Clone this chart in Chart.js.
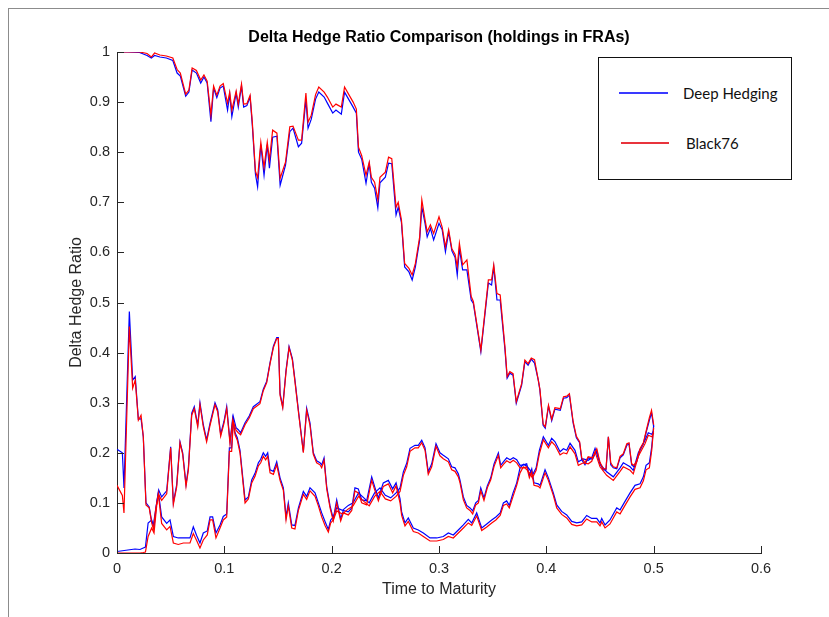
<!DOCTYPE html>
<html>
<head>
<meta charset="utf-8">
<script src="https://cdn.jsdelivr.net/npm/chart.js@4.4.0/dist/chart.umd.min.js"></script>
<style>
html, body { margin: 0; padding: 0; background: #fff; }
#wrap { position: relative; width: 829px; height: 617px; overflow: hidden; }
#frame { position: absolute; left: 8px; top: 8px; width: 900px; height: 700px; border-left: 1px solid #8c8c8c; border-top: 1px solid #8c8c8c; }
#legend { position: absolute; left: 598px; top: 57px; width: 192px; height: 121px; border: 1px solid #111; background: #fff;
  font-family: Lato, "Open Sans", sans-serif; font-size: 15px; color: #111; }
#legend .ln { position: absolute; height: 2px; }
#legend .tx { position: absolute; line-height: 18px; }
</style>
</head>
<body>
<div id="wrap">
  <canvas id="hedgeChart" width="829" height="617"></canvas>
  <div id="frame"></div>
  <div id="legend">
    <div class="ln" style="left:20px;top:34px;width:49px;background:#3a3aff;"></div>
    <div class="tx" style="left:84px;top:26px;">Deep Hedging</div>
    <div class="ln" style="left:22px;top:84px;width:48px;background:#e8343c;"></div>
    <div class="tx" style="left:87px;top:76px;">Black76</div>
  </div>
</div>
<script>
// x/y tick values and labels
var xTicks = [0, 0.1, 0.2, 0.3, 0.4, 0.5, 0.6];
var xTickLabels = ['0', '0.1', '0.2', '0.3', '0.4', '0.5', '0.6'];
var yTicks = [0, 0.1, 0.2, 0.3, 0.4, 0.5, 0.6, 0.7, 0.8, 0.9, 1];
var yTickLabels = ['0', '0.1', '0.2', '0.3', '0.4', '0.5', '0.6', '0.7', '0.8', '0.9', '1'];

// path 1 (starts in the money, delta near 1)
var tA = [0,0.01,0.021,0.028,0.032,0.035,0.04,0.046,0.052,0.056,0.059,0.064,0.067,0.07,0.074,0.078,0.081,0.084,0.0875,0.09,
  0.093,0.096,0.099,0.103,0.105,0.107,0.111,0.113,0.116,0.118,0.121,0.124,0.126,0.129,0.131,0.134,0.137,0.14,0.142,0.145,
  0.149,0.152,0.157,0.161,0.164,0.169,0.172,0.176,0.178,0.181,0.185,0.188,0.193,0.196,0.201,0.204,0.209,0.212,0.216,0.22,
  0.223,0.225,0.228,0.232,0.235,0.237,0.24,0.243,0.245,0.25,0.253,0.256,0.26,0.262,0.265,0.268,0.272,0.275,0.278,0.282,
  0.284,0.287,0.289,0.292,0.295,0.3,0.303,0.306,0.309,0.312,0.315,0.317,0.319,0.322,0.326,0.33,0.332,0.339,0.346,0.349,
  0.351,0.354,0.357,0.3615,0.3635,0.366,0.369,0.372,0.377,0.38,0.383,0.386,0.389,0.3925,0.394,0.397,0.399,0.402,0.405,0.408,
  0.413,0.416,0.419,0.4215,0.425,0.428,0.431,0.433,0.436,0.439,0.443,0.447,0.45,0.453,0.4556,0.4578,0.46,0.4624,0.4656,0.4687,
  0.4717,0.475,0.477,0.4795,0.4817,0.4842,0.4873,0.4904,0.4935,0.496,0.498,0.5];
var deepA = [1,1,0.999,0.993,0.988,0.993,0.99,0.988,0.983,0.958,0.952,0.912,0.92,0.964,0.958,0.938,0.95,0.938,0.861,0.928,
  0.909,0.928,0.932,0.884,0.916,0.871,0.918,0.89,0.932,0.89,0.893,0.91,0.856,0.756,0.731,0.815,0.754,0.815,0.768,0.83,
  0.832,0.734,0.774,0.841,0.848,0.811,0.818,0.905,0.848,0.866,0.906,0.92,0.91,0.898,0.878,0.884,0.876,0.92,0.905,0.89,
  0.878,0.8,0.786,0.738,0.777,0.74,0.728,0.689,0.739,0.75,0.778,0.777,0.675,0.69,0.66,0.571,0.561,0.545,0.571,0.625,
  0.691,0.658,0.631,0.648,0.625,0.658,0.645,0.601,0.641,0.603,0.59,0.555,0.608,0.565,0.565,0.505,0.498,0.402,0.539,0.535,
  0.571,0.505,0.505,0.405,0.349,0.359,0.355,0.299,0.335,0.382,0.375,0.387,0.379,0.345,0.325,0.255,0.249,0.293,0.264,0.287,
  0.285,0.309,0.31,0.315,0.259,0.23,0.22,0.186,0.176,0.19,0.187,0.205,0.178,0.166,0.166,0.232,0.176,0.17,0.168,0.19,
  0.196,0.215,0.218,0.176,0.172,0.182,0.205,0.218,0.245,0.265,0.28,0.252];
var blackA = [1,1,1,0.997,0.99,0.998,0.994,0.992,0.988,0.965,0.958,0.916,0.924,0.968,0.963,0.944,0.954,0.942,0.874,0.932,
  0.914,0.932,0.937,0.898,0.92,0.884,0.922,0.896,0.936,0.896,0.897,0.914,0.862,0.762,0.749,0.82,0.77,0.82,0.784,0.844,
  0.838,0.748,0.78,0.851,0.852,0.824,0.824,0.918,0.86,0.874,0.915,0.93,0.92,0.91,0.89,0.896,0.89,0.93,0.915,0.9,
  0.886,0.81,0.793,0.754,0.78,0.75,0.74,0.705,0.75,0.76,0.79,0.787,0.69,0.7,0.665,0.578,0.568,0.555,0.578,0.631,
  0.705,0.665,0.641,0.655,0.638,0.671,0.65,0.611,0.645,0.607,0.596,0.571,0.618,0.575,0.585,0.512,0.502,0.405,0.545,0.545,
  0.575,0.518,0.515,0.41,0.352,0.362,0.358,0.302,0.338,0.385,0.378,0.389,0.386,0.345,0.327,0.258,0.252,0.295,0.267,0.29,
  0.288,0.312,0.313,0.318,0.262,0.233,0.222,0.19,0.18,0.192,0.19,0.208,0.181,0.168,0.168,0.232,0.18,0.172,0.17,0.193,
  0.198,0.218,0.22,0.178,0.175,0.184,0.208,0.22,0.248,0.27,0.285,0.256];

// path 2 (spike at start, peak 0.43 near 0.15)
var tB = [0,0.005,0.0065,0.0115,0.0146,0.017,0.0199,0.0224,0.0245,0.027,0.03,0.0323,0.0339,0.036,0.0385,0.0416,0.0463,0.0494,0.0525,0.0571,
  0.0618,0.068,0.0711,0.0742,0.0773,0.0804,0.0841,0.0867,0.0891,0.0922,0.096,0.099,0.1022,0.1047,0.1068,0.1084,0.1109,0.113,0.1152,0.1193,
  0.1233,0.127,0.1332,0.1363,0.1395,0.1426,0.1457,0.1488,0.1503,0.1519,0.1544,0.1575,0.1603,0.1634,0.1658,0.169,0.1736,0.1767,0.1798,0.1829,
  0.186,0.1891,0.1907,0.1929,0.1954,0.1985,0.2015,0.2047,0.2084,0.2109,0.2155,0.2187,0.2217,0.2248,0.228,0.2326,0.2373,0.2404,0.2435,0.2481,
  0.2528,0.2568,0.26,0.2637,0.2652,0.2683,0.2714,0.2761,0.2807,0.2854,0.2916,0.2979,0.304,0.3087,0.3133,0.318,0.3227,0.3273,0.3305,0.3351,
  0.3398,0.3445,0.3491,0.353,0.357,0.36,0.363,0.3655,0.369,0.3724,0.3755,0.3786,0.382,0.385,0.387,0.3905,0.3935,0.3972,0.4019,0.405,
  0.4081,0.4128,0.4159,0.419,0.4221,0.4267,0.4298,0.4345,0.4391,0.4423,0.4454,0.45,0.4562,0.4624,0.4687,0.4717,0.478,0.481,0.4857,0.4919,
  0.495,0.4982,0.5];
var deepB = [0.207,0.2,0.13,0.482,0.345,0.352,0.267,0.268,0.232,0.1,0.092,0.063,0.056,0.086,0.122,0.072,0.059,0.066,0.033,0.03,
  0.03,0.03,0.052,0.035,0.02,0.04,0.044,0.072,0.072,0.04,0.056,0.073,0.078,0.21,0.21,0.272,0.25,0.246,0.24,0.26,
  0.274,0.292,0.302,0.327,0.343,0.38,0.413,0.43,0.43,0.319,0.292,0.365,0.412,0.388,0.345,0.285,0.202,0.289,0.26,0.2,
  0.184,0.18,0.176,0.19,0.132,0.094,0.068,0.106,0.068,0.085,0.082,0.09,0.13,0.128,0.106,0.104,0.152,0.13,0.11,0.14,
  0.145,0.128,0.14,0.108,0.082,0.06,0.07,0.05,0.046,0.04,0.03,0.03,0.033,0.04,0.036,0.046,0.056,0.067,0.06,0.08,
  0.05,0.058,0.066,0.072,0.08,0.1,0.104,0.095,0.12,0.14,0.17,0.177,0.173,0.165,0.155,0.17,0.205,0.232,0.215,0.229,
  0.222,0.202,0.208,0.205,0.219,0.205,0.182,0.188,0.185,0.19,0.209,0.178,0.162,0.152,0.17,0.18,0.172,0.165,0.2,0.225,
  0.24,0.237,0.244];
var blackB = [0.135,0.115,0.08,0.452,0.329,0.345,0.265,0.275,0.232,0.096,0.09,0.06,0.048,0.086,0.118,0.059,0.046,0.053,0.02,0.017,
  0.02,0.02,0.039,0.025,0.01,0.026,0.036,0.066,0.066,0.03,0.05,0.066,0.072,0.203,0.203,0.262,0.245,0.24,0.236,0.256,
  0.27,0.288,0.298,0.324,0.34,0.378,0.41,0.428,0.428,0.315,0.29,0.362,0.41,0.385,0.342,0.282,0.2,0.285,0.255,0.197,
  0.18,0.176,0.17,0.185,0.128,0.09,0.064,0.1,0.064,0.08,0.076,0.085,0.124,0.12,0.1,0.096,0.145,0.124,0.104,0.133,
  0.138,0.12,0.134,0.1,0.075,0.054,0.063,0.043,0.04,0.033,0.024,0.024,0.027,0.033,0.03,0.04,0.05,0.06,0.055,0.074,
  0.045,0.052,0.06,0.066,0.075,0.095,0.098,0.09,0.113,0.135,0.16,0.172,0.166,0.158,0.15,0.165,0.198,0.226,0.21,0.222,
  0.215,0.196,0.2,0.198,0.212,0.198,0.175,0.18,0.178,0.183,0.202,0.172,0.155,0.145,0.163,0.172,0.165,0.158,0.193,0.218,
  0.235,0.232,0.24];

// path 3 (starts out of the money, delta near 0)
var tC = [0,0.0168,0.0214,0.0245,0.0265,0.029,0.0323,0.0345,0.037,0.039,0.0416,0.0463,0.05,0.0525,0.0556,0.0587,0.0612,0.0643,0.0665,0.0696,
  0.072,0.0752,0.0773,0.0804,0.0835,0.0867,0.0913,0.0938,0.0966,0.0997,0.1022,0.1053,0.1078,0.11,0.1121,0.1146,0.1193,0.1224,0.1255,0.1286,
  0.1317,0.1339,0.1363,0.1385,0.1404,0.1426,0.1457,0.1488,0.1519,0.155,0.1575,0.1596,0.1628,0.1658,0.169,0.1736,0.1767,0.1798,0.1845,0.1876,
  0.1907,0.1938,0.1969,0.1991,0.2015,0.2047,0.21,0.2155,0.22,0.225,0.23,0.235,0.24,0.245,0.25,0.255,0.26,0.2637,0.2668,0.2699,
  0.273,0.2776,0.2807,0.2839,0.287,0.29,0.2932,0.2972,0.3009,0.304,0.3087,0.3118,0.3149,0.318,0.3196,0.3227,0.3258,0.3289,0.3314,0.3342,
  0.3367,0.3389,0.3419,0.345,0.3482,0.3513,0.3553,0.3575,0.36,0.3631,0.3662,0.3692,0.3724,0.3755,0.3786,0.3817,0.3842,0.3864,0.3885,0.3925,
  0.3941,0.3988,0.4019,0.4065,0.4097,0.4143,0.419,0.4237,0.4283,0.433,0.4376,0.4423,0.447,0.45,0.4516,0.4547,0.4593,0.4656,0.4687,0.4733,
  0.478,0.4826,0.4873,0.4904,0.4929,0.496,0.4982,0.5];
var deepC = [0.003,0.008,0.007,0.01,0.012,0.06,0.066,0.052,0.1,0.125,0.112,0.124,0.212,0.1,0.136,0.222,0.2,0.137,0.17,0.279,
  0.292,0.256,0.3,0.256,0.226,0.259,0.3,0.286,0.237,0.263,0.292,0.222,0.27,0.24,0.23,0.205,0.106,0.112,0.146,0.159,
  0.18,0.187,0.2,0.193,0.2,0.166,0.163,0.182,0.15,0.13,0.072,0.1,0.056,0.055,0.09,0.123,0.113,0.13,0.12,0.1,
  0.08,0.063,0.047,0.066,0.072,0.09,0.085,0.095,0.1,0.12,0.11,0.1,0.12,0.13,0.115,0.11,0.12,0.13,0.162,0.179,
  0.209,0.215,0.215,0.225,0.21,0.162,0.178,0.218,0.2,0.195,0.188,0.172,0.17,0.158,0.145,0.112,0.095,0.09,0.084,0.1,
  0.105,0.13,0.11,0.134,0.15,0.178,0.2,0.175,0.182,0.19,0.186,0.19,0.186,0.175,0.176,0.178,0.155,0.168,0.14,0.138,
  0.135,0.166,0.15,0.12,0.096,0.083,0.076,0.063,0.06,0.062,0.075,0.069,0.069,0.06,0.069,0.056,0.066,0.09,0.086,0.103,
  0.12,0.135,0.138,0.152,0.175,0.18,0.212,0.255];
var blackC = [0,0,0,0.001,0.002,0.033,0.05,0.04,0.095,0.116,0.105,0.118,0.21,0.097,0.132,0.22,0.197,0.133,0.166,0.275,
  0.288,0.252,0.296,0.252,0.222,0.255,0.296,0.282,0.233,0.259,0.288,0.218,0.265,0.236,0.225,0.2,0.1,0.108,0.14,0.153,
  0.174,0.18,0.193,0.186,0.193,0.16,0.157,0.176,0.145,0.125,0.066,0.094,0.05,0.048,0.085,0.117,0.107,0.124,0.113,0.094,
  0.072,0.055,0.042,0.06,0.066,0.084,0.078,0.088,0.094,0.113,0.103,0.094,0.113,0.123,0.108,0.104,0.113,0.123,0.155,0.172,
  0.203,0.21,0.21,0.22,0.205,0.157,0.172,0.213,0.194,0.188,0.182,0.166,0.163,0.152,0.14,0.106,0.09,0.085,0.078,0.096,
  0.1,0.124,0.105,0.13,0.146,0.173,0.195,0.17,0.177,0.184,0.18,0.185,0.18,0.17,0.17,0.172,0.15,0.162,0.135,0.133,
  0.13,0.16,0.145,0.115,0.09,0.077,0.07,0.057,0.054,0.056,0.068,0.062,0.062,0.054,0.062,0.05,0.058,0.082,0.078,0.095,
  0.112,0.127,0.13,0.144,0.166,0.17,0.205,0.25];

function toPoints(ts, vs) {
    return ts.map(function(t, i) { return {x: t, y: vs[i]}; });
}

function lineSet(ts, vs, color, order) {
    return {
        data: toPoints(ts, vs),
        borderColor: color,
        borderWidth: 1.2,
        pointRadius: 0,
        tension: 0,
        fill: false,
        order: order
    };
}

var axisColor = '#262626';
var tickFont = {family: '"Liberation Sans", Arial, sans-serif', size: 14.5};

//Inward tick marks, title and axis labels
var matlabAxes = {
    id: 'matlabAxes',
    afterDraw: function(chart) {
        var ctx = chart.ctx;
        var area = chart.chartArea;
        var xs = chart.scales.x;
        var ys = chart.scales.y;
        ctx.save();
        ctx.strokeStyle = axisColor;
        ctx.lineWidth = 1;
        xTicks.forEach(function(v) {
            var px = Math.round(xs.getPixelForValue(v)) + 0.5;
            ctx.beginPath();
            ctx.moveTo(px, area.bottom);
            ctx.lineTo(px, area.bottom - 7);
            ctx.stroke();
        });
        yTicks.forEach(function(v) {
            var py = Math.round(ys.getPixelForValue(v)) + 0.5;
            ctx.beginPath();
            ctx.moveTo(area.left, py);
            ctx.lineTo(area.left + 7, py);
            ctx.stroke();
        });
        ctx.fillStyle = '#000';
        ctx.textAlign = 'center';
        ctx.textBaseline = 'middle';
        ctx.font = 'bold 16px "Liberation Sans", Arial, sans-serif';
        ctx.fillText('Delta Hedge Ratio Comparison (holdings in FRAs)', (area.left + area.right) / 2, 38);
        ctx.fillStyle = axisColor;
        ctx.font = '16px "Liberation Sans", Arial, sans-serif';
        ctx.fillText('Time to Maturity', (area.left + area.right) / 2, 590);
        ctx.translate(77, (area.top + area.bottom) / 2);
        ctx.rotate(-Math.PI / 2);
        ctx.fillText('Delta Hedge Ratio', 0, 0);
        ctx.restore();
    }
};

var ctx = document.getElementById('hedgeChart');
var chart = new Chart(ctx, {
    type: 'line',
    data: {
        datasets: [
            lineSet(tA, blackA, '#ff0000', 0),
            lineSet(tB, blackB, '#ff0000', 0),
            lineSet(tC, blackC, '#ff0000', 0),
            lineSet(tA, deepA, '#0000ff', 1),
            lineSet(tB, deepB, '#0000ff', 1),
            lineSet(tC, deepC, '#0000ff', 1)
        ]
    },
    options: {
        responsive: false,
        animation: false,
        layout: {padding: {left: 0, right: 68, top: 52, bottom: 0}},
        plugins: {legend: {display: false}, tooltip: {enabled: false}, title: {display: false}},
        scales: {
            x: {
                type: 'linear', min: 0, max: 0.6,
                afterBuildTicks: function(s) { s.ticks = xTicks.map(function(v) { return {value: v}; }); },
                afterFit: function(s) { s.height = 64; },
                grid: {display: false, drawTicks: false},
                border: {display: true, color: axisColor, width: 1},
                ticks: {
                    padding: 7, color: axisColor, font: tickFont, maxRotation: 0, autoSkip: false,
                    callback: function(v, i) { return xTickLabels[i]; }
                }
            },
            y: {
                type: 'linear', min: 0, max: 1,
                afterBuildTicks: function(s) { s.ticks = yTicks.map(function(v) { return {value: v}; }); },
                afterFit: function(s) { s.width = 117; },
                grid: {display: false, drawTicks: false},
                border: {display: true, color: axisColor, width: 1},
                ticks: {
                    padding: 7, color: axisColor, font: tickFont, autoSkip: false,
                    callback: function(v, i) { return yTickLabels[i]; }
                }
            }
        }
    },
    plugins: [matlabAxes]
});
</script>
</body>
</html>
